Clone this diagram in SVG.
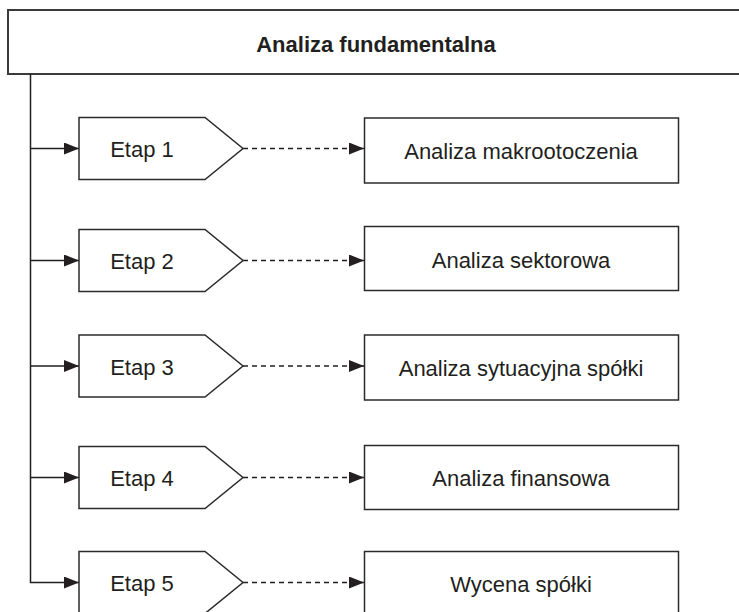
<svg xmlns="http://www.w3.org/2000/svg" width="739" height="612" viewBox="0 0 739 612">
<style>
  .box { fill: #ffffff; stroke: #2b2b2b; stroke-width: 1.5; }
  .title-box { fill: #ffffff; stroke: #3a3a3a; stroke-width: 2; }
  .txt { font-family: "Liberation Sans", Arial, sans-serif; font-size: 22px; fill: #231f20; text-anchor: middle; }
  .title { font-family: "Liberation Sans", Arial, sans-serif; font-size: 22px; font-weight: bold; fill: #231f20; text-anchor: middle; }
  .solid { fill: none; stroke: #231f20; stroke-width: 1.5; }
  .dash { fill: none; stroke: #231f20; stroke-width: 1.5; stroke-dasharray: 5 4; }
</style>
<defs>
  <marker id="arr" viewBox="0 0 15 12" refX="15" refY="6" markerWidth="15" markerHeight="12" markerUnits="userSpaceOnUse" orient="auto">
    <path d="M0,0 L15,6 L0,12 Z" fill="#231f20" stroke="none"/>
  </marker>
</defs>

<g id="title-node">
  <rect class="title-box" x="8" y="10" width="740" height="64"/>
  <text class="title" x="376" y="52">Analiza fundamentalna</text>
</g>

<g id="connectors">
  <polyline class="solid" points="30.5,74 30.5,582.5 79,582.5" marker-end="url(#arr)"/>
  <line class="solid" x1="30.5" y1="148.5" x2="79" y2="148.5" marker-end="url(#arr)"/>
  <line class="solid" x1="30.5" y1="260.5" x2="79" y2="260.5" marker-end="url(#arr)"/>
  <line class="solid" x1="30.5" y1="366" x2="79" y2="366" marker-end="url(#arr)"/>
  <line class="solid" x1="30.5" y1="477.5" x2="79" y2="477.5" marker-end="url(#arr)"/>
  <line class="dash" x1="243" y1="148.5" x2="364" y2="148.5" marker-end="url(#arr)"/>
  <line class="dash" x1="243" y1="260.5" x2="364" y2="260.5" marker-end="url(#arr)"/>
  <line class="dash" x1="243" y1="366" x2="364" y2="366" marker-end="url(#arr)"/>
  <line class="dash" x1="243" y1="477.5" x2="364" y2="477.5" marker-end="url(#arr)"/>
  <line class="dash" x1="243" y1="582.5" x2="364" y2="582.5" marker-end="url(#arr)"/>
</g>

<g id="etap1">
  <polygon class="box" points="79,117.5 205,117.5 243,148.5 205,179.5 79,179.5"/>
  <text class="txt" x="142" y="157">Etap 1</text>
</g>
<g id="etap2">
  <polygon class="box" points="79,229.5 205,229.5 243,260.5 205,291.5 79,291.5"/>
  <text class="txt" x="142" y="269">Etap 2</text>
</g>
<g id="etap3">
  <polygon class="box" points="79,335 205,335 243,366 205,397 79,397"/>
  <text class="txt" x="142" y="374.5">Etap 3</text>
</g>
<g id="etap4">
  <polygon class="box" points="79,446.5 205,446.5 243,477.5 205,508.5 79,508.5"/>
  <text class="txt" x="142" y="486">Etap 4</text>
</g>
<g id="etap5">
  <polygon class="box" points="79,551.5 205,551.5 243,582.5 205,613.5 79,613.5"/>
  <text class="txt" x="142" y="591">Etap 5</text>
</g>

<g id="krok1">
  <rect class="box" x="364.5" y="118" width="314" height="65"/>
  <text class="txt" x="521" y="159">Analiza makrootoczenia</text>
</g>
<g id="krok2">
  <rect class="box" x="364.5" y="226.5" width="314" height="64"/>
  <text class="txt" x="521" y="268">Analiza sektorowa</text>
</g>
<g id="krok3">
  <rect class="box" x="364.5" y="335" width="314" height="65"/>
  <text class="txt" x="521" y="376">Analiza sytuacyjna spółki</text>
</g>
<g id="krok4">
  <rect class="box" x="364.5" y="445.5" width="314" height="64"/>
  <text class="txt" x="521" y="486">Analiza finansowa</text>
</g>
<g id="krok5">
  <rect class="box" x="364.5" y="551.5" width="314" height="65"/>
  <text class="txt" x="521" y="592">Wycena spółki</text>
</g>
</svg>
